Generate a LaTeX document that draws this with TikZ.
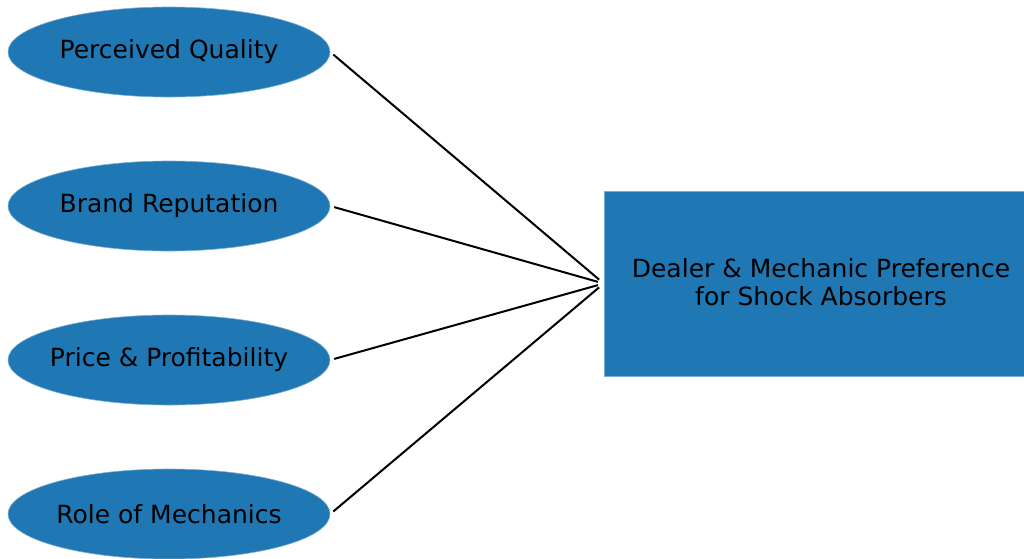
\documentclass[tikz,border=0pt]{standalone}
\usepackage{fontspec}
\setmainfont{DejaVu Sans}
\usepackage{tikz}
\usetikzlibrary{shapes.geometric}
\definecolor{mplblue}{HTML}{1F77B4}
\tikzset{
  factor/.style={
    shape = ellipse,
    fill = mplblue,
    draw = mplblue!60,
    line width = 0.6pt,
    inner sep = 0pt,
    minimum width = 322pt,
    minimum height = 90pt
  },
  outcome/.style={
    shape = rectangle,
    fill = mplblue,
    draw = mplblue!60,
    line width = 0.6pt,
    inner sep = 0pt,
    minimum width = 420pt,
    minimum height = 185pt
  },
  link/.style={
    line width = 2pt,
    shorten >= 6pt,
    shorten <= 4pt
  },
  every node/.style={
    font=\fontsize{25}{28.5}\selectfont
  }
}

\begin{document}
\begin{tikzpicture}[x=1pt,y=-1pt]
    \useasboundingbox (0,0) rectangle (1024,558);
    \node[factor, label=center:{Perceived Quality}] (quality) at (169,52) {};
    \node[factor, label=center:{Brand Reputation}] (brand) at (169,206) {};
    \node[factor, label=center:{Price \& Profitability}] (price) at (169,360) {};
    \node[factor, label=center:{Role of Mechanics}] (mech) at (169,514) {};
    \node[outcome] (pref) at (814,283.5) {};
    \node[align=center] (preftext) at (821,282) {Dealer \& Mechanic Preference\\for Shock Absorbers};
    % connectors into the box
    \draw[link] (quality.east) -- (pref.west);
    \draw[link] (brand.east) -- (pref.west);
    \draw[link] (price.east) -- (pref.west);
    \draw[link] (mech.east) -- (pref.west);
\end{tikzpicture}
\end{document}
